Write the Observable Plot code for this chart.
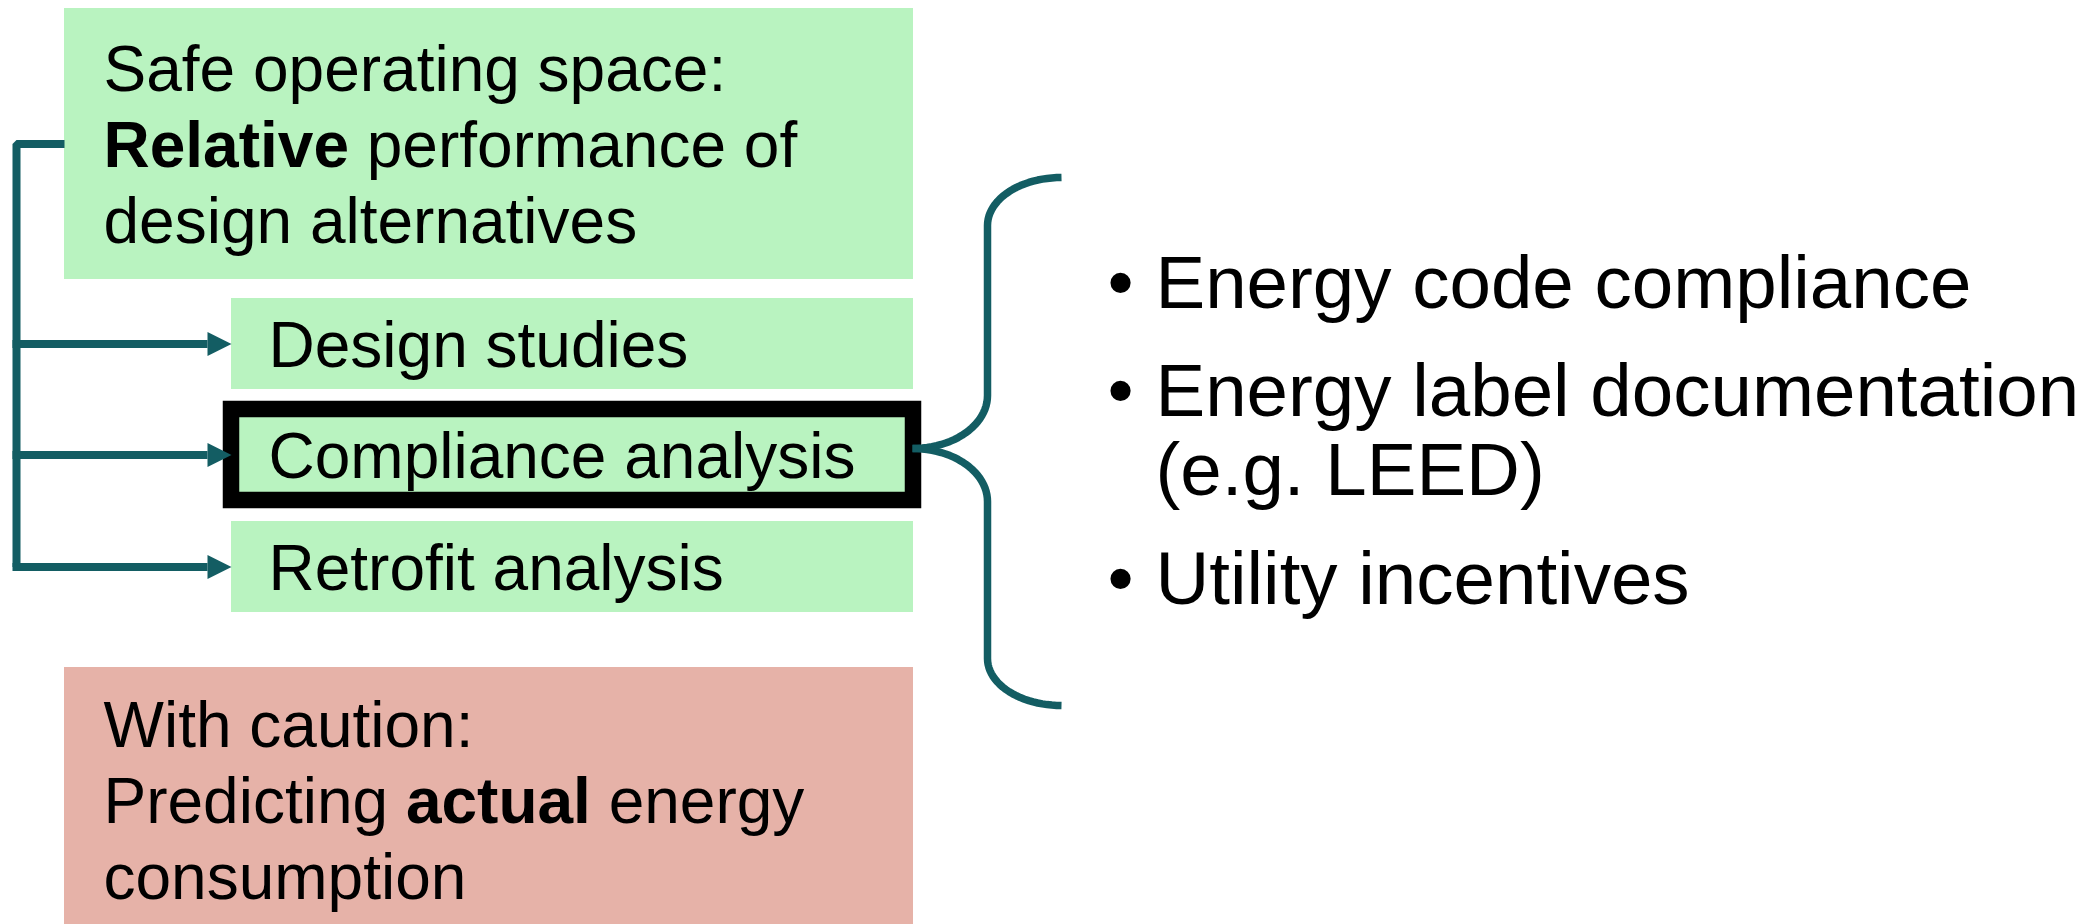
<!DOCTYPE html>
<html><head><meta charset="utf-8">
<script src="https://cdn.jsdelivr.net/npm/d3@7"></script>
<script src="https://cdn.jsdelivr.net/npm/@observablehq/plot@0.6"></script>
<style>html,body{margin:0;padding:0;background:#fff;overflow:hidden}</style>
</head><body><div id="chart"></div>
<script>
// ---- content ----
const safeSpaceLines = ["Safe operating space:", "**Relative** performance of", "design alternatives"];
const cautionLines = ["With caution:", "Predicting **actual** energy", "consumption"];
const applications = ["Design studies", "Compliance analysis", "Retrofit analysis"];
const highlightedApplication = "Compliance analysis";
const complianceUses = [["Energy code compliance"], ["Energy label documentation", "(e.g. LEED)"], ["Utility incentives"]];

// ---- layout & style ----
const W = 2090, H = 924;
const GREEN = "#b9f3c0", PINK = "#e6b2a8", TEAL = "#135d63";
const FONT = "'Liberation Sans', Arial, Helvetica, sans-serif";
const leftBox = {x1: 64, x2: 913};
const safeBox = {y1: 8, y2: 279, textX: 103, baseline: 90, lineStep: 76};
const cautionBox = {y1: 667, y2: 924, textX: 103, baseline: 746, lineStep: 76};
const appBox = {x1: 231, x2: 913, height: 91, tops: [298, 409, 521], textX: 268, baselineOffset: 68};
const trunk = {x: 16, stub: 143.5, width: 8, headLen: 24, headHalf: 12};
const usesLayout = {bulletX: 1120, textX: 1155, baselines: [307, 415, 603], lineStep: 79};
const brace = {tipX: 912, tipY: 448, spineX: 987, endX: 1061, top: 177, bottom: 705, upperJoin: 225, midTop: 395, midBottom: 501, lowerJoin: 658};
const LEFT_FS = 64, RIGHT_FS = 74.5;

// ---- derived mark data ----
const bgBoxes = [
  {x1: leftBox.x1, x2: leftBox.x2, y1: safeBox.y1, y2: safeBox.y2, fill: GREEN},
  {x1: leftBox.x1, x2: leftBox.x2, y1: cautionBox.y1, y2: cautionBox.y2, fill: PINK}
];
const appRows = applications.map((name, i) => ({
  name, top: appBox.tops[i], center: appBox.tops[i] + appBox.height / 2,
  highlighted: name === highlightedApplication
}));
const leftTexts = [
  ...safeSpaceLines.map((t, i) => ({text: t, x: safeBox.textX, y: safeBox.baseline + i * safeBox.lineStep})),
  ...cautionLines.map((t, i) => ({text: t, x: cautionBox.textX, y: cautionBox.baseline + i * cautionBox.lineStep})),
  ...appRows.map(r => ({text: r.name, x: appBox.textX, y: r.top + appBox.baselineOffset}))
];
const rightTexts = complianceUses.flatMap((lines, i) =>
  lines.map((t, j) => ({text: t, y: usesLayout.baselines[i] + j * usesLayout.lineStep})));
const bullets = complianceUses.map((lines, i) => ({text: "•", y: usesLayout.baselines[i]}));

const trunkPts = [
  {x: leftBox.x1, y: trunk.stub},
  {x: trunk.x, y: trunk.stub},
  {x: trunk.x, y: appRows[appRows.length - 1].center}
];
const shafts = appRows.map(r => ({x1: trunk.x - trunk.width / 2, x2: appBox.x1 - trunk.headLen, y: r.center}));
const heads = appRows.flatMap((r, i) => [
  {g: i, x: appBox.x1 - trunk.headLen, y: r.center - trunk.headHalf},
  {g: i, x: appBox.x1, y: r.center},
  {g: i, x: appBox.x1 - trunk.headLen, y: r.center + trunk.headHalf}
]);

// brace: quarter-ellipse arcs joined by straight spines
function arc(g, cx, cy, rx, ry, a0, a1, n = 24) {
  const pts = [];
  for (let k = 0; k <= n; k++) {
    const a = a0 + (a1 - a0) * k / n;
    pts.push({g, x: cx + rx * Math.cos(a), y: cy + ry * Math.sin(a)});
  }
  return pts;
}
const b = brace;
const bracePts = [
  ...arc("u", b.endX, b.upperJoin, b.endX - b.spineX, b.upperJoin - b.top, -Math.PI / 2, -Math.PI),
  ...arc("u", b.tipX, b.midTop, b.spineX - b.tipX, b.tipY - b.midTop, 0, Math.PI / 2),
  ...arc("l", b.tipX, b.midBottom, b.spineX - b.tipX, b.midBottom - b.tipY, -Math.PI / 2, 0),
  ...arc("l", b.endX, b.lowerJoin, b.endX - b.spineX, b.bottom - b.lowerJoin, Math.PI, Math.PI / 2)
];

const svg = Plot.plot({
  width: W, height: H,
  margin: 0,
  x: {domain: [0, W], range: [0, W], axis: null},
  y: {domain: [0, H], range: [0, H], axis: null},
  style: {fontFamily: FONT, background: "white", overflow: "visible"},
  marks: [
    Plot.rect(bgBoxes, {x1: "x1", x2: "x2", y1: "y1", y2: "y2", fill: d => d.fill}),
    Plot.rect(appRows, {x1: () => appBox.x1, x2: () => appBox.x2, y1: "top", y2: d => d.top + appBox.height,
      fill: GREEN, stroke: d => d.highlighted ? "black" : "none", strokeWidth: 16.5}),
    Plot.line(trunkPts, {x: "x", y: "y", stroke: TEAL, strokeWidth: trunk.width, strokeLinejoin: "miter", strokeLinecap: "butt"}),
    Plot.link(shafts, {x1: "x1", x2: "x2", y1: "y", y2: "y", stroke: TEAL, strokeWidth: trunk.width, strokeLinecap: "butt"}),
    Plot.line(heads, {x: "x", y: "y", z: "g", fill: TEAL, stroke: "none"}),
    Plot.line(bracePts, {x: "x", y: "y", z: "g", stroke: TEAL, strokeWidth: 7.5, strokeLinejoin: "round", strokeLinecap: "butt"}),
    Plot.text(leftTexts, {x: "x", y: "y", text: "text", textAnchor: "start", lineAnchor: "bottom", fontSize: LEFT_FS, fill: "black", fontFamily: FONT}),
    Plot.text(rightTexts, {x: () => usesLayout.textX, y: "y", text: "text", textAnchor: "start", lineAnchor: "bottom", fontSize: RIGHT_FS, fill: "black", fontFamily: FONT}),
    Plot.text(bullets, {x: () => usesLayout.bulletX, y: "y", text: "text", textAnchor: "middle", lineAnchor: "bottom", fontSize: RIGHT_FS, fill: "black", fontFamily: FONT})
  ]
});

// rich text: **bold** segments
d3.select(svg).selectAll("text").each(function () {
  const t = this.textContent;
  if (!t || !t.includes("**")) return;
  this.textContent = "";
  t.split(/(\*\*[^*]+\*\*)/).filter(Boolean).forEach(part => {
    const ts = document.createElementNS("http://www.w3.org/2000/svg", "tspan");
    if (part.startsWith("**")) { ts.setAttribute("font-weight", "bold"); ts.textContent = part.slice(2, -2); }
    else ts.textContent = part;
    this.appendChild(ts);
  });
});

document.getElementById("chart").appendChild(svg);
</script>
</body></html>
